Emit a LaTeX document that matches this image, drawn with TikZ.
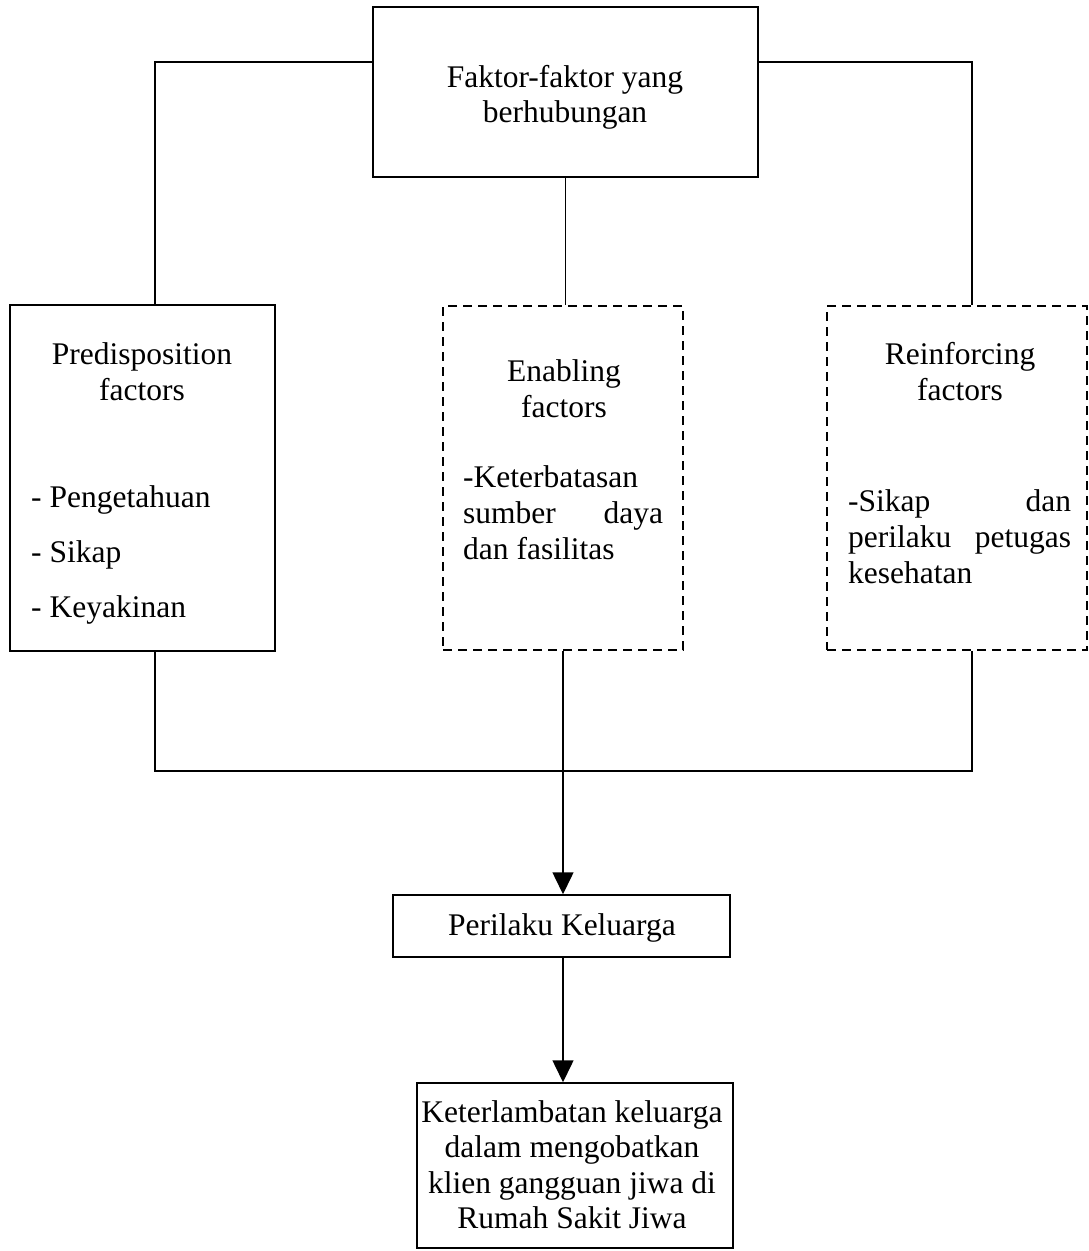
\documentclass[tikz,border=0pt]{standalone}
\usepackage{fontspec}
\setmainfont{Liberation Serif}
\usetikzlibrary{arrows.meta}
\begin{document}
\begin{tikzpicture}[x=1pt,y=-1pt,
  box/.style={draw, line width=1.5pt, rectangle, inner sep=0pt},
  dbox/.style={box, dash pattern=on 9pt off 6pt},
  conn/.style={line width=1.5pt},
  arr/.style={conn, -{Triangle[width=21pt,length=22pt]}},
  txt/.style={inner sep=0pt, font=\fontsize{31.5}{36}\selectfont},
  ctxt/.style={txt, anchor=base},
  ltxt/.style={txt, anchor=base west}]
\useasboundingbox (0,0) rectangle (1088,1251);

% boxes
\node[box, minimum width=385pt, minimum height=170pt] (top) at (565.5,92) {};
\node[box, minimum width=265pt, minimum height=346pt] (pre) at (142.5,478) {};
\node[dbox, minimum width=240pt, minimum height=344pt] (enab) at (563,478) {};
\node[dbox, minimum width=260pt, minimum height=344pt] (rein) at (957,478) {};
\node[box, minimum width=337pt, minimum height=62pt] (peri) at (561.5,926) {};
\node[box, minimum width=316pt, minimum height=165pt] (kel) at (575,1165.5) {};

% texts
\node[ctxt] (t1) at (565,87) {Faktor-faktor yang};
\node[ctxt] (t2) at (565,122) {berhubungan};

\node[ctxt] (p1) at (142,364) {Predisposition};
\node[ctxt] (p2) at (142,400) {factors};
\node[ltxt] (p3) at (31,507) {- Pengetahuan};
\node[ltxt] (p4) at (31,562) {- Sikap};
\node[ltxt] (p5) at (31,617) {- Keyakinan};

\node[ctxt] (e1) at (564,381) {Enabling};
\node[ctxt] (e2) at (564,417) {factors};
\node[ltxt] (e3) at (463,487) {-Keterbatasan};
\node[ltxt] (e4) at (463,523) {\makebox[200pt][s]{sumber daya}};
\node[ltxt] (e5) at (463,559) {dan fasilitas};

\node[ctxt] (r1) at (960,364) {Reinforcing};
\node[ctxt] (r2) at (960,400) {factors};
\node[ltxt] (r3) at (848,511) {\makebox[223pt][s]{-Sikap dan}};
\node[ltxt] (r4) at (848,547) {\makebox[223pt][s]{perilaku petugas}};
\node[ltxt] (r5) at (848,583) {kesehatan};

\node[ctxt] (pk) at (562,935) {Perilaku Keluarga};

\node[ctxt] (k1) at (572,1122) {Keterlambatan keluarga};
\node[ctxt] (k2) at (572,1157) {dalam mengobatkan};
\node[ctxt] (k3) at (572,1193) {klien gangguan jiwa di};
\node[ctxt] (k4) at (572,1228) {Rumah Sakit Jiwa};

% connectors
\coordinate (tl) at (155,62);
\coordinate (tr) at (972,62);
\coordinate (jl) at (155,771);
\coordinate (jr) at (972,771);

\draw[conn] (top.west |- tl) -- (tl) -- (pre.north -| tl);
\draw[conn] (top.east |- tr) -- (tr) -- (rein.north -| tr);
\draw[conn] (top.south) -- (enab.north -| top.south);
\draw[conn] (pre.south -| jl) -- (jl) -- (jr) -- (rein.south -| jr);
\draw[arr] (enab.south) -- (peri.north -| enab.south);
\draw[arr] (peri.south -| enab.south) -- (kel.north -| enab.south);
\end{tikzpicture}
\end{document}
